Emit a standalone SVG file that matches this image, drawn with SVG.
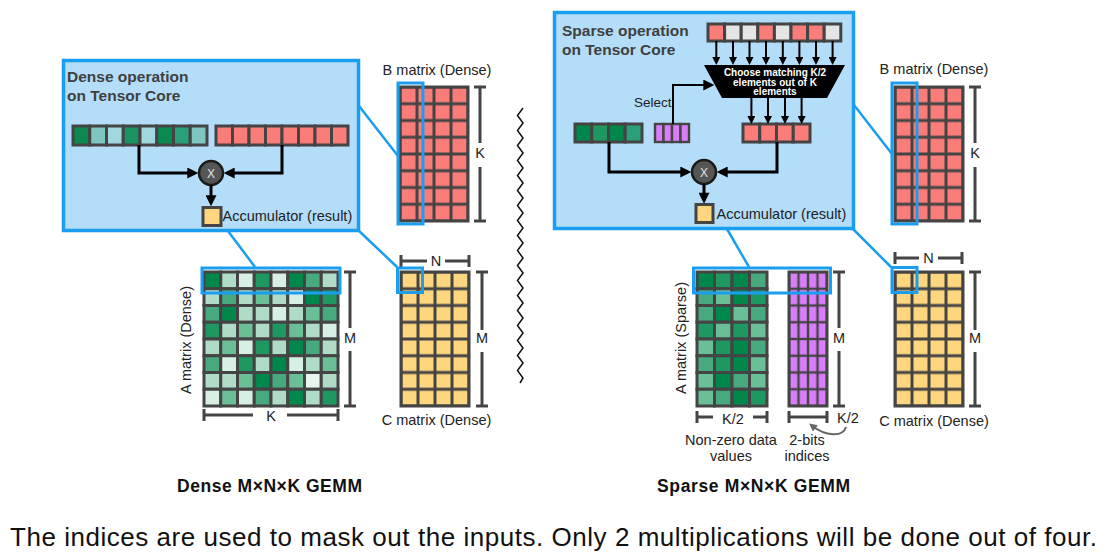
<svg xmlns="http://www.w3.org/2000/svg" width="1117" height="558" viewBox="0 0 1117 558">
<style>
text{font-family:"Liberation Sans",Arial,sans-serif;fill:#222}
.t{font-size:14.5px}
.title{font-size:15.5px;font-weight:bold;fill:#3f3f3f}
.big{font-size:17.5px;font-weight:bold;fill:#111}
.cap{font-size:26px;fill:#111}
.box{fill:#b3ddf9;stroke:#1b9df0;stroke-width:3.5}
.hl{fill:none;stroke:#1b9df0;stroke-width:3}
.zl{fill:none;stroke:#1b9df0;stroke-width:2.5}
.br{fill:none;stroke:#444;stroke-width:3}
.cells rect{stroke:#444;stroke-width:3}
.outer{fill:none;stroke:#444;stroke-width:3}
.D{fill:#00874b}.M{fill:#1e9760}.m{fill:#47a97d}.l{fill:#6bbf96}.L{fill:#b0dcc7}.V{fill:#d8efe4}.W{fill:#e8f5ef}
.R{fill:#fa7d7a}.G{fill:#e5e5e5}.Y{fill:#fed67f}.P{fill:#d97ef9}
.ar{fill:none;stroke:#000;stroke-width:3}
.ars{fill:none;stroke:#000;stroke-width:2}
.op{fill:#555;stroke:#1a1a1a;stroke-width:2.5}
.x{font-size:12px;fill:#e0e0e0;text-anchor:middle}
.w{font-size:10px;font-weight:bold;fill:#fff;text-anchor:middle}
.mid{text-anchor:middle}
</style>
<defs>
<marker id="ah" viewBox="0 0 10 10" refX="7" refY="5" markerWidth="12" markerHeight="11" markerUnits="userSpaceOnUse" orient="auto"><path d="M0,0 L10,5 L0,10 z" fill="#000"/></marker>
<marker id="as" viewBox="0 0 10 10" refX="7" refY="5" markerWidth="9" markerHeight="8" markerUnits="userSpaceOnUse" orient="auto"><path d="M0,0 L10,5 L0,10 z" fill="#000"/></marker>
<marker id="ag" viewBox="0 0 10 10" refX="7" refY="5" markerWidth="9" markerHeight="8" markerUnits="userSpaceOnUse" orient="auto"><path d="M0,0 L10,5 L0,10 z" fill="#666"/></marker>
<pattern id="pRed" width="17" height="16.75" patternUnits="userSpaceOnUse"><rect width="17" height="16.75" fill="#fa7d7a" stroke="#444" stroke-width="3"/></pattern>
<pattern id="pYel" width="17" height="16.75" patternUnits="userSpaceOnUse"><rect width="17" height="16.75" fill="#fed67f" stroke="#444" stroke-width="3"/></pattern>
<pattern id="pPur" width="9.5" height="16.75" patternUnits="userSpaceOnUse"><rect width="9.5" height="16.75" fill="#d97ef9" stroke="#444" stroke-width="2.4"/></pattern>
</defs>

<!-- Dense operation box -->
<g id="dense-op">
<rect class="box" x="63.5" y="60.5" width="295" height="170"/>
<text class="title" x="67" y="82">Dense operation</text>
<text class="title" x="67" y="101">on Tensor Core</text>
<g class="cells">
<rect x="73" y="126" width="16.75" height="19" fill="#0a8a50"/>
<rect x="89.75" y="126" width="16.75" height="19" fill="#7fc5c0"/>
<rect x="106.5" y="126" width="16.75" height="19" fill="#a3d7e0"/>
<rect x="123.25" y="126" width="16.75" height="19" fill="#1b9262"/>
<rect x="140" y="126" width="16.75" height="19" fill="#a3d7e0"/>
<rect x="156.75" y="126" width="16.75" height="19" fill="#0a8a50"/>
<rect x="173.5" y="126" width="16.75" height="19" fill="#2aa07a"/>
<rect x="190.25" y="126" width="16.75" height="19" fill="#7fc5c0"/>
<rect class="R" x="216" y="126" width="16.5" height="19"/>
<rect class="R" x="232.5" y="126" width="16.5" height="19"/>
<rect class="R" x="249" y="126" width="16.5" height="19"/>
<rect class="R" x="265.5" y="126" width="16.5" height="19"/>
<rect class="R" x="282" y="126" width="16.5" height="19"/>
<rect class="R" x="298.5" y="126" width="16.5" height="19"/>
<rect class="R" x="315" y="126" width="16.5" height="19"/>
<rect class="R" x="331.5" y="126" width="16.5" height="19"/>
<rect class="Y" x="203" y="207.5" width="18" height="18"/>
</g>
<circle class="op" cx="211" cy="173" r="12"/>
<text class="x" x="211" y="177.5">X</text>
<text class="t" x="222.5" y="221">Accumulator (result)</text>
</g>

<!-- Sparse operation box -->
<g id="sparse-op">
<rect class="box" x="554.5" y="12.5" width="299" height="216"/>
<text class="title" x="562" y="35.5">Sparse operation</text>
<text class="title" x="562" y="54.5">on Tensor Core</text>
<g class="cells">
<rect class="R" x="708" y="24" width="16.6" height="17"/>
<rect class="G" x="724.6" y="24" width="16.6" height="17"/>
<rect class="G" x="741.2" y="24" width="16.6" height="17"/>
<rect class="R" x="757.8" y="24" width="16.6" height="17"/>
<rect class="G" x="774.4" y="24" width="16.6" height="17"/>
<rect class="R" x="791" y="24" width="16.6" height="17"/>
<rect class="R" x="807.6" y="24" width="16.6" height="17"/>
<rect class="G" x="824.2" y="24" width="16.6" height="17"/>
<rect class="R" x="743" y="124" width="16.75" height="18"/>
<rect class="R" x="759.75" y="124" width="16.75" height="18"/>
<rect class="R" x="776.5" y="124" width="16.75" height="18"/>
<rect class="R" x="793.25" y="124" width="16.75" height="18"/>
<rect class="D" x="575" y="124" width="16.75" height="18"/>
<rect class="M" x="591.75" y="124" width="16.75" height="18"/>
<rect class="D" x="608.5" y="124" width="16.75" height="18"/>
<rect x="625.25" y="124" width="16.75" height="18" fill="#2aa07a"/>
<rect class="P" x="655" y="124" width="8.5" height="18" style="stroke-width:2.4"/>
<rect class="P" x="663.5" y="124" width="8.5" height="18" style="stroke-width:2.4"/>
<rect class="P" x="672" y="124" width="8.5" height="18" style="stroke-width:2.4"/>
<rect class="P" x="680.5" y="124" width="8.5" height="18" style="stroke-width:2.4"/>
<rect class="Y" x="696" y="204.5" width="17" height="18"/>
</g>
<polygon points="704,65 845,65 827,98 722,98" fill="#000"/>
<text class="w" x="775" y="75.5">Choose matching K/2</text>
<text class="w" x="775" y="85.5">elements out of K</text>
<text class="w" x="775" y="95">elements</text>
<text class="t" x="634" y="107" style="font-size:13.5px">Select</text>
<circle class="op" cx="704" cy="172" r="12"/>
<text class="x" x="704" y="176.5">X</text>
<text class="t" x="716.5" y="218.5">Accumulator (result)</text>
</g>

<!-- Dense A matrix -->
<g id="dense-a">
<g class="cells" transform="translate(204,272)">
<rect class="D" x="0" y="0" width="16.75" height="16.75"/><rect class="L" x="16.75" y="0" width="16.75" height="16.75"/><rect class="V" x="33.5" y="0" width="16.75" height="16.75"/><rect class="M" x="50.25" y="0" width="16.75" height="16.75"/><rect class="V" x="67" y="0" width="16.75" height="16.75"/><rect class="D" x="83.75" y="0" width="16.75" height="16.75"/><rect class="m" x="100.5" y="0" width="16.75" height="16.75"/><rect class="L" x="117.25" y="0" width="16.75" height="16.75"/>
<rect class="L" x="0" y="16.75" width="16.75" height="16.75"/><rect class="m" x="16.75" y="16.75" width="16.75" height="16.75"/><rect class="L" x="33.5" y="16.75" width="16.75" height="16.75"/><rect class="l" x="50.25" y="16.75" width="16.75" height="16.75"/><rect class="L" x="67" y="16.75" width="16.75" height="16.75"/><rect class="V" x="83.75" y="16.75" width="16.75" height="16.75"/><rect class="D" x="100.5" y="16.75" width="16.75" height="16.75"/><rect class="M" x="117.25" y="16.75" width="16.75" height="16.75"/>
<rect class="m" x="0" y="33.5" width="16.75" height="16.75"/><rect class="D" x="16.75" y="33.5" width="16.75" height="16.75"/><rect class="L" x="33.5" y="33.5" width="16.75" height="16.75"/><rect class="L" x="50.25" y="33.5" width="16.75" height="16.75"/><rect class="V" x="67" y="33.5" width="16.75" height="16.75"/><rect class="L" x="83.75" y="33.5" width="16.75" height="16.75"/><rect class="l" x="100.5" y="33.5" width="16.75" height="16.75"/><rect class="m" x="117.25" y="33.5" width="16.75" height="16.75"/>
<rect class="M" x="0" y="50.25" width="16.75" height="16.75"/><rect class="L" x="16.75" y="50.25" width="16.75" height="16.75"/><rect class="l" x="33.5" y="50.25" width="16.75" height="16.75"/><rect class="L" x="50.25" y="50.25" width="16.75" height="16.75"/><rect class="M" x="67" y="50.25" width="16.75" height="16.75"/><rect class="l" x="83.75" y="50.25" width="16.75" height="16.75"/><rect class="L" x="100.5" y="50.25" width="16.75" height="16.75"/><rect class="V" x="117.25" y="50.25" width="16.75" height="16.75"/>
<rect class="L" x="0" y="67" width="16.75" height="16.75"/><rect class="l" x="16.75" y="67" width="16.75" height="16.75"/><rect class="V" x="33.5" y="67" width="16.75" height="16.75"/><rect class="M" x="50.25" y="67" width="16.75" height="16.75"/><rect class="L" x="67" y="67" width="16.75" height="16.75"/><rect class="D" x="83.75" y="67" width="16.75" height="16.75"/><rect class="m" x="100.5" y="67" width="16.75" height="16.75"/><rect class="L" x="117.25" y="67" width="16.75" height="16.75"/>
<rect class="m" x="0" y="83.75" width="16.75" height="16.75"/><rect class="V" x="16.75" y="83.75" width="16.75" height="16.75"/><rect class="M" x="33.5" y="83.75" width="16.75" height="16.75"/><rect class="L" x="50.25" y="83.75" width="16.75" height="16.75"/><rect class="D" x="67" y="83.75" width="16.75" height="16.75"/><rect class="V" x="83.75" y="83.75" width="16.75" height="16.75"/><rect class="L" x="100.5" y="83.75" width="16.75" height="16.75"/><rect class="l" x="117.25" y="83.75" width="16.75" height="16.75"/>
<rect class="L" x="0" y="100.5" width="16.75" height="16.75"/><rect class="L" x="16.75" y="100.5" width="16.75" height="16.75"/><rect class="l" x="33.5" y="100.5" width="16.75" height="16.75"/><rect class="D" x="50.25" y="100.5" width="16.75" height="16.75"/><rect class="m" x="67" y="100.5" width="16.75" height="16.75"/><rect class="l" x="83.75" y="100.5" width="16.75" height="16.75"/><rect class="W" x="100.5" y="100.5" width="16.75" height="16.75"/><rect class="L" x="117.25" y="100.5" width="16.75" height="16.75"/>
<rect class="V" x="0" y="117.25" width="16.75" height="16.75"/><rect class="l" x="16.75" y="117.25" width="16.75" height="16.75"/><rect class="V" x="33.5" y="117.25" width="16.75" height="16.75"/><rect class="m" x="50.25" y="117.25" width="16.75" height="16.75"/><rect class="L" x="67" y="117.25" width="16.75" height="16.75"/><rect class="D" x="83.75" y="117.25" width="16.75" height="16.75"/><rect class="L" x="100.5" y="117.25" width="16.75" height="16.75"/><rect class="M" x="117.25" y="117.25" width="16.75" height="16.75"/>
</g>
<path class="br" d="M344,272 H356 M350,272 V328 M350,351 V406 M344,406 H356"/>
<text class="t mid" x="350" y="343">M</text>
<path class="br" d="M204,409 V421 M204,415 H253 M287,415 H338 M338,409 V421"/>
<text class="t mid" x="271" y="420.5">K</text>
<text class="t mid" transform="translate(191,340) rotate(-90)">A matrix (Dense)</text>
<rect class="hl" x="202" y="268" width="138" height="25"/>
</g>

<!-- Dense B matrix -->
<g id="dense-b">
<text class="t mid" x="437" y="75">B matrix (Dense)</text>
<g transform="translate(400,87)"><rect width="68" height="134" fill="url(#pRed)"/><rect class="outer" width="68" height="134"/></g>
<path class="br" d="M474,87 H486 M480,87 V143 M480,167 V221 M474,221 H486"/>
<text class="t mid" x="480" y="158">K</text>
<rect class="hl" x="398" y="83" width="25" height="141"/>
</g>

<!-- Dense C matrix -->
<g id="dense-c">
<path class="br" d="M401,255 V267 M401,261 H427 M445,261 H469 M469,255 V267"/>
<text class="t mid" x="436" y="266">N</text>
<g transform="translate(401,272)"><rect width="68" height="134" fill="url(#pYel)"/><rect class="outer" width="68" height="134"/></g>
<path class="br" d="M476,272 H488 M482,272 V330 M482,352 V406 M476,406 H488"/>
<text class="t mid" x="482" y="343">M</text>
<text class="t mid" x="436.5" y="425">C matrix (Dense)</text>
<rect class="hl" x="397.5" y="268" width="25" height="24.5"/>
</g>

<!-- Sparse A matrix -->
<g id="sparse-a">
<g class="cells" transform="translate(697,272)">
<rect class="D" x="0" y="0" width="17.5" height="16.75"/><rect class="M" x="17.5" y="0" width="17.5" height="16.75"/><rect class="D" x="35" y="0" width="17.5" height="16.75"/><rect class="m" x="52.5" y="0" width="17.5" height="16.75"/>
<rect class="m" x="0" y="16.75" width="17.5" height="16.75"/><rect class="l" x="17.5" y="16.75" width="17.5" height="16.75"/><rect class="D" x="35" y="16.75" width="17.5" height="16.75"/><rect class="M" x="52.5" y="16.75" width="17.5" height="16.75"/>
<rect class="m" x="0" y="33.5" width="17.5" height="16.75"/><rect class="D" x="17.5" y="33.5" width="17.5" height="16.75"/><rect class="l" x="35" y="33.5" width="17.5" height="16.75"/><rect class="m" x="52.5" y="33.5" width="17.5" height="16.75"/>
<rect class="M" x="0" y="50.25" width="17.5" height="16.75"/><rect class="l" x="17.5" y="50.25" width="17.5" height="16.75"/><rect class="M" x="35" y="50.25" width="17.5" height="16.75"/><rect class="l" x="52.5" y="50.25" width="17.5" height="16.75"/>
<rect class="l" x="0" y="67" width="17.5" height="16.75"/><rect class="M" x="17.5" y="67" width="17.5" height="16.75"/><rect class="D" x="35" y="67" width="17.5" height="16.75"/><rect class="m" x="52.5" y="67" width="17.5" height="16.75"/>
<rect class="m" x="0" y="83.75" width="17.5" height="16.75"/><rect class="M" x="17.5" y="83.75" width="17.5" height="16.75"/><rect class="D" x="35" y="83.75" width="17.5" height="16.75"/><rect class="l" x="52.5" y="83.75" width="17.5" height="16.75"/>
<rect class="l" x="0" y="100.5" width="17.5" height="16.75"/><rect class="D" x="17.5" y="100.5" width="17.5" height="16.75"/><rect class="m" x="35" y="100.5" width="17.5" height="16.75"/><rect class="l" x="52.5" y="100.5" width="17.5" height="16.75"/>
<rect class="l" x="0" y="117.25" width="17.5" height="16.75"/><rect class="m" x="17.5" y="117.25" width="17.5" height="16.75"/><rect class="D" x="35" y="117.25" width="17.5" height="16.75"/><rect class="M" x="52.5" y="117.25" width="17.5" height="16.75"/>
</g>
<g transform="translate(789,272)"><rect width="38" height="134" fill="url(#pPur)"/><rect class="outer" width="38" height="134"/></g>
<path class="br" d="M833,272 H845 M839,272 V328 M839,351 V406 M833,406 H845"/>
<text class="t mid" x="839" y="343">M</text>
<path class="br" d="M697,411 V423 M697,417 H713 M753,417 H767 M767,411 V423"/>
<text class="t mid" x="733" y="423.5">K/2</text>
<path class="br" d="M789,411 V423 M789,417 H827 M827,411 V423"/>
<text class="t mid" x="848" y="423">K/2</text>
<text class="t mid" transform="translate(686,338) rotate(-90)">A matrix (Sparse)</text>
<text class="t mid" x="731" y="444.5">Non-zero data</text>
<text class="t mid" x="731" y="461">values</text>
<text class="t mid" x="807" y="444.5">2-bits</text>
<text class="t mid" x="807" y="461">indices</text>
<rect class="hl" x="693.5" y="268" width="137" height="25"/>
</g>

<!-- Sparse B matrix -->
<g id="sparse-b">
<text class="t mid" x="934" y="74">B matrix (Dense)</text>
<g transform="translate(895,87)"><rect width="68" height="134" fill="url(#pRed)"/><rect class="outer" width="68" height="134"/></g>
<path class="br" d="M969,87 H981 M975,87 V143 M975,167 V221 M969,221 H981"/>
<text class="t mid" x="975" y="158">K</text>
<rect class="hl" x="892" y="83" width="25" height="141"/>
</g>

<!-- Sparse C matrix -->
<g id="sparse-c">
<path class="br" d="M895,252 V264 M895,258 H919 M938,258 H962 M962,252 V264"/>
<text class="t mid" x="928.5" y="263">N</text>
<g transform="translate(895,272)"><rect width="68" height="134" fill="url(#pYel)"/><rect class="outer" width="68" height="134"/></g>
<path class="br" d="M969,272 H981 M975,272 V330 M975,352 V406 M969,406 H981"/>
<text class="t mid" x="975" y="343">M</text>
<text class="t mid" x="934" y="426">C matrix (Dense)</text>
<rect class="hl" x="892" y="267.5" width="25" height="25"/>
</g>

<!-- Divider -->
<g id="divider">
<polyline fill="none" stroke="#111" stroke-width="1.5" points="523,108 517.5,115.5 523,123 517.5,130.5 523,138 517.5,145.5 523,153 517.5,160.5 523,168 517.5,175.5 523,183 517.5,190.5 523,198 517.5,205.5 523,213 517.5,220.5 523,228 517.5,235.5 523,243 517.5,250.5 523,258 517.5,265.5 523,273 517.5,280.5 523,288 517.5,295.5 523,303 517.5,310.5 523,318 517.5,325.5 523,333 517.5,340.5 523,348 517.5,355.5 523,363 517.5,370.5 523,378 520,383"/>
</g>

<!-- Labels -->
<g id="labels">
<text class="big" x="177" y="492" textLength="185" lengthAdjust="spacing">Dense M×N×K GEMM</text>
<text class="big" x="657" y="492" textLength="193" lengthAdjust="spacing">Sparse M×N×K GEMM</text>
<text class="cap" x="10" y="546" textLength="1087" lengthAdjust="spacing">The indices are used to mask out the inputs. Only 2 multiplications will be done out of four.</text>
</g>

<!-- Connectors -->
<g id="connectors">
<path class="zl" d="M228,231 L255,267"/>
<path class="zl" d="M358,230 L397,267"/>
<path class="zl" d="M359,106 L398,156"/>
<path class="zl" d="M727,229 L749,267"/>
<path class="zl" d="M853,229 L891,267"/>
<path class="zl" d="M854,105 L892,154"/>
<path class="ar" d="M139,145 V173 H195" marker-end="url(#ah)"/>
<path class="ar" d="M282,145 V173 H227" marker-end="url(#ah)"/>
<path class="ar" d="M211,185 V203" marker-end="url(#ah)"/>
<path class="ar" d="M609,142 V172 H688" marker-end="url(#ah)"/>
<path class="ar" d="M777,142 V172 H720" marker-end="url(#ah)"/>
<path class="ar" d="M704,184 V200.5" marker-end="url(#ah)"/>
<path class="ars" d="M673,124 V85 H711" marker-end="url(#ah)"/>
<path class="ars" d="M716.3,41 V62.5" marker-end="url(#as)"/>
<path class="ars" d="M733,41 V62.5" marker-end="url(#as)"/>
<path class="ars" d="M749.5,41 V62.5" marker-end="url(#as)"/>
<path class="ars" d="M766,41 V62.5" marker-end="url(#as)"/>
<path class="ars" d="M782.8,41 V62.5" marker-end="url(#as)"/>
<path class="ars" d="M799.4,41 V62.5" marker-end="url(#as)"/>
<path class="ars" d="M816,41 V62.5" marker-end="url(#as)"/>
<path class="ars" d="M832.6,41 V62.5" marker-end="url(#as)"/>
<path class="ars" d="M751.4,98 V121.5" marker-end="url(#as)"/>
<path class="ars" d="M768,98 V121.5" marker-end="url(#as)"/>
<path class="ars" d="M785,98 V121.5" marker-end="url(#as)"/>
<path class="ars" d="M801.6,98 V121.5" marker-end="url(#as)"/>
<path d="M846,427 C843,437 826,437 811,425" fill="none" stroke="#666" stroke-width="2" marker-end="url(#ag)"/>
</g>
</svg>
